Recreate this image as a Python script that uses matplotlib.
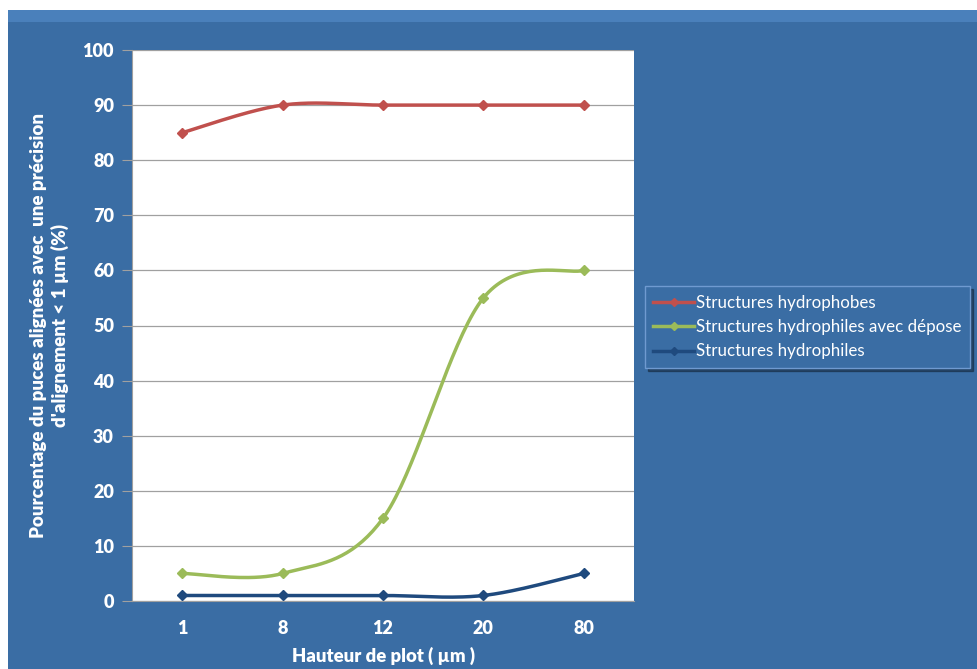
import numpy as np
import matplotlib.pyplot as plt
from matplotlib.patches import Rectangle
from matplotlib.lines import Line2D

# data
hauteurs = ['1', '8', '12', '20', '80']
hydrophobes = [85, 90, 90, 90, 90]
hydrophiles_depose = [5, 5, 15, 55, 60]
hydrophiles = [1, 1, 1, 1, 5]

series = [
    ('Structures hydrophobes', hydrophobes, '#c0504d'),
    ('Structures hydrophiles avec dépose', hydrophiles_depose, '#9bbb59'),
    ('Structures hydrophiles', hydrophiles, '#1f4a7e'),
]

bg = '#3a6da4'
plt.rcParams['font.family'] = ['Lato', 'DejaVu Sans']


def smooth(x, y, n=40):
    # excel-like smoothed line (catmull-rom bezier)
    x = np.asarray(x, float)
    y = np.asarray(y, float)
    px = np.concatenate([[x[0]], x, [x[-1]]])
    py = np.concatenate([[y[0]], y, [y[-1]]])
    xs, ys = [], []
    t = np.linspace(0, 1, n)
    for i in range(1, len(px) - 2):
        p0 = np.array([px[i], py[i]])
        p3 = np.array([px[i + 1], py[i + 1]])
        c1 = p0 + (np.array([px[i + 1], py[i + 1]]) - np.array([px[i - 1], py[i - 1]])) / 6
        c2 = p3 - (np.array([px[i + 2], py[i + 2]]) - np.array([px[i], py[i]])) / 6
        b = ((1 - t) ** 3)[:, None] * p0 + (3 * (1 - t) ** 2 * t)[:, None] * c1 \
            + (3 * (1 - t) * t ** 2)[:, None] * c2 + (t ** 3)[:, None] * p3
        xs.extend(b[:, 0])
        ys.extend(b[:, 1])
    return xs, ys


fig = plt.figure(figsize=(9.77, 6.69), dpi=100)
fig.patch.set_facecolor('white')
# blue chart area with lighter top edge
fig.patches.append(Rectangle((8 / 977, 0), 1, 1 - 10 / 669, transform=fig.transFigure,
                             facecolor=bg, edgecolor='none', zorder=-10))
fig.patches.append(Rectangle((8 / 977, 1 - 22 / 669), 1, 12 / 669, transform=fig.transFigure,
                             facecolor='#4a80bb', edgecolor='none', zorder=-9))

ax = fig.add_axes([132 / 977, 1 - 601 / 669, 502 / 977, 551 / 669])
ax.set_facecolor('white')
x = np.arange(len(hauteurs))
for name, vals, col in series:
    sx, sy = smooth(x, vals)
    ax.plot(sx, sy, color=col, lw=2.5, solid_capstyle='round', zorder=3)
    ax.plot(x, vals, 'D', color=col, ms=5.5, zorder=4)

ax.set_xlim(-0.5, len(hauteurs) - 0.5)
ax.set_ylim(0, 100)
ax.set_yticks(range(0, 101, 10))
ax.set_xticks(x)
ax.set_xticklabels(hauteurs)
ax.grid(axis='y', color='#a0a0a0', lw=0.9, zorder=1)
for s in ['top', 'right']:
    ax.spines[s].set_visible(False)
for s in ['left', 'bottom']:
    ax.spines[s].set_color('#a0a0a0')
ax.tick_params(axis='y', colors='#a0a0a0', length=7, labelcolor='white', labelsize=13, pad=6)
ax.tick_params(axis='x', length=0, labelcolor='white', labelsize=13, pad=14)
for lab in ax.get_xticklabels() + ax.get_yticklabels():
    lab.set_fontweight('heavy')

ax.set_xlabel('Hauteur de plot ( µm )', color='white', fontsize=13.3, fontweight='heavy', labelpad=7)
ax.set_ylabel("Pourcentage du puces alignées avec  une précision\nd'alignement < 1 µm (%)",
              color='white', fontsize=13.5, fontweight='heavy', labelpad=10, linespacing=1.25)

handles = [Line2D([], [], color=c, lw=2.5, marker='D', ms=4) for _, _, c in series]
leg = fig.legend(handles, [s[0] for s in series], loc='center left',
                 bbox_to_anchor=(645 / 977, 1 - 327 / 669), frameon=True, fontsize=12.2,
                 facecolor=bg, edgecolor='#6f9ad0', framealpha=1, fancybox=False,
                 shadow=True, handlelength=2.4, handletextpad=0.1, labelspacing=0.5,
                 borderpad=0.5, borderaxespad=0)
for t in leg.get_texts():
    t.set_color('white')

fig.savefig('out.png', dpi=100, facecolor='white')
